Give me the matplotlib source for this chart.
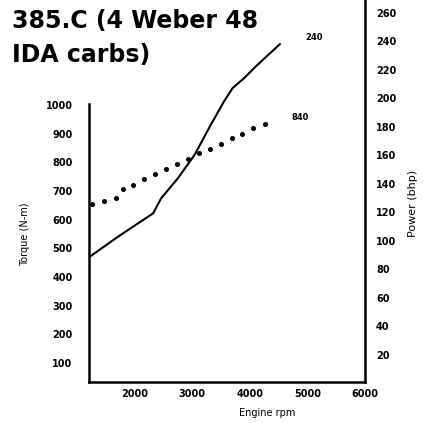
import matplotlib.pyplot as plt

# engine data
power_rpm = [1220, 1710, 2320, 2460, 2750, 3040, 3320, 3550, 3700, 3900, 4100, 4520]
power_bhp = [89, 103, 119.4, 130, 144, 160.4, 181.4, 197.8, 207.2, 214.2, 222.3, 238]

torque_rpm = [1250, 1470, 1670, 1800, 1970, 2160, 2350, 2545, 2730, 2925, 3115, 3305,
              3495, 3685, 3870, 4060, 4265]
torque_nm = [654, 665, 675, 706, 721, 741, 758, 776, 793, 813, 833, 847,
             863, 884, 899, 919, 934]

x_ticks = [2000, 3000, 4000, 5000, 6000]
left_ticks = [100, 200, 300, 400, 500, 600, 700, 800, 900, 1000]
right_ticks = [20, 40, 60, 80, 100, 120, 140, 160, 180, 200, 220, 240, 260]

fig = plt.figure(figsize=(4.36, 4.23), dpi=100)
ax = fig.add_axes([0.2048, 0.0969, 0.6323, 0.9031])
ax2 = ax.twinx()

# torque = dots on the left scale
ax.plot(torque_rpm, torque_nm, linestyle='none', marker='o', markersize=2.6, color='black')
# power = solid line on the right scale
ax2.plot(power_rpm, power_bhp, color='black', linewidth=1.5)

ax.set_xlim(1210, 5970)
ax.set_ylim(34, 1366)
ax2.set_ylim(1.05, 269)

# spines
for a in (ax, ax2):
    a.spines['top'].set_visible(False)
    for s in a.spines.values():
        s.set_linewidth(1.8)
ax.spines['left'].set_bounds(34, 1003)
ax.spines['right'].set_visible(False)
ax2.spines['left'].set_visible(False)
ax2.spines['bottom'].set_visible(False)

ax.set_xticks(x_ticks)
ax.set_xticklabels([str(t) for t in x_ticks], fontsize=7, fontweight='bold')
ax.set_yticks(left_ticks)
ax.set_yticklabels([str(t) for t in left_ticks], fontsize=7, fontweight='bold')
ax2.set_yticks(right_ticks)
ax2.set_yticklabels([str(t) for t in right_ticks], fontsize=7, fontweight='bold')
ax.tick_params(axis='x', length=0, pad=5)
ax.tick_params(axis='y', length=0, pad=12)
ax2.tick_params(axis='y', length=0, pad=8)

# end-of-curve values
ax2.text(5110, 242.5, '240', fontsize=6, fontweight='bold', ha='center', va='center')
ax.text(4870, 955, '840', fontsize=6, fontweight='bold', ha='center', va='center')

# title, two lines
fig.text(12 / 436, 1 - 28 / 423, '385.C (4 Weber 48', fontsize=17, fontweight='bold',
         ha='left', va='baseline')
fig.text(12 / 436, 1 - 62 / 423, 'IDA carbs)', fontsize=17, fontweight='bold',
         ha='left', va='baseline')
fig.text(25 / 436, 1 - 234 / 423, 'Torque (N-m)', fontsize=7, rotation=90,
         ha='center', va='center')
fig.text(413 / 436, 1 - 203 / 423, 'Power (bhp)', fontsize=8, rotation=90,
         ha='center', va='center')
fig.text(266.7 / 436, 1 - 412.7 / 423, 'Engine rpm', fontsize=7,
         ha='center', va='center')

fig.savefig('out.png', dpi=100)
